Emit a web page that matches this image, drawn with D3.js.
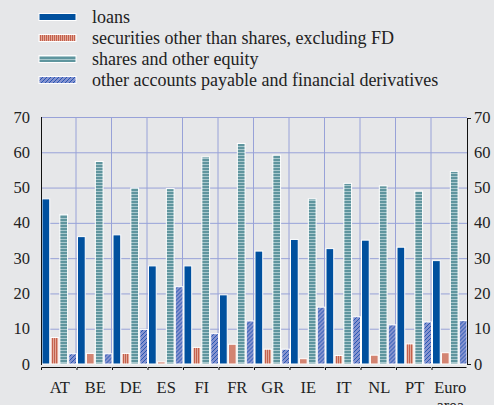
<!DOCTYPE html>
<html>
<head>
<meta charset="utf-8">
<script src="https://d3js.org/d3.v7.min.js"></script>
</head>
<body style="margin:0">
<script>
var categories = ["AT", "BE", "DE", "ES", "FI", "FR", "GR", "IE", "IT", "NL", "PT", "Euro area"];
var seriesNames = ["loans", "securities other than shares, excluding FD",
                   "shares and other equity", "other accounts payable and financial derivatives"];
var loans      = [46.8, 36.1, 36.6, 27.8, 27.8, 19.6, 32.0, 35.3, 32.7, 35.1, 33.1, 29.3];
var securities = [7.5, 3.0, 3.0, 0.6, 4.7, 5.6, 4.2, 1.5, 2.4, 2.5, 5.7, 3.2];
var shares     = [42.4, 57.4, 49.9, 49.7, 58.7, 62.5, 59.2, 46.8, 51.2, 50.5, 49.0, 54.6];
var otherAcc   = [2.9, 2.9, 9.8, 21.9, 8.6, 12.2, 4.2, 16.1, 13.4, 11.1, 11.9, 12.3];
var yTicks = [0, 10, 20, 30, 40, 50, 60, 70];

var series = [loans, securities, shares, otherAcc];
var fills = ["#00509e", "url(#pSec)", "url(#pSh)", "url(#pOth)"];
var serif = "'Liberation Serif'";

var W = 494, H = 405;
var m = {left: 41, right: 27, top: 117, bottom: 41};

var svg = d3.select("body").append("svg").attr("width", W).attr("height", H);
svg.append("rect").attr("width", W).attr("height", H).attr("fill", "#e6e7e9");

// patterns
var defs = svg.append("defs");
var p1 = defs.append("pattern").attr("id", "pSec").attr("patternUnits", "userSpaceOnUse")
  .attr("width", 2).attr("height", 4);
p1.append("rect").attr("width", 2).attr("height", 4).attr("fill", "#e2a898");
p1.append("rect").attr("width", 1).attr("height", 4).attr("fill", "#c4604c");
var p2 = defs.append("pattern").attr("id", "pSh").attr("patternUnits", "userSpaceOnUse")
  .attr("width", 4).attr("height", 3);
p2.append("rect").attr("width", 4).attr("height", 3).attr("fill", "#a9c8cd");
p2.append("rect").attr("width", 4).attr("height", 2).attr("fill", "#5f959e");
var p3 = defs.append("pattern").attr("id", "pOth").attr("patternUnits", "userSpaceOnUse")
  .attr("width", 4).attr("height", 4);
p3.append("rect").attr("width", 4).attr("height", 4).attr("fill", "#8593cf");
p3.append("path").attr("d", "M0,4 L4,0 M-1,1 L1,-1 M3,5 L5,3").attr("stroke", "#1d4fb0").attr("stroke-width", 0.9);

var x = d3.scaleBand().domain(categories).range([m.left, W - m.right]);
var x1 = d3.scaleBand().domain(d3.range(4)).range([0, x.bandwidth()]).paddingOuter(0).paddingInner(0.02);
var y = d3.scaleLinear().domain([0, 70]).range([H - m.bottom, m.top]);

// grid
var grid = svg.append("g").attr("stroke", "#98a2d8").attr("stroke-width", 1);
grid.selectAll("line.h").data(yTicks.slice(1)).enter().append("line")
  .attr("x1", m.left).attr("x2", W - m.right)
  .attr("y1", function(d) { return y(d) + 0.5; }).attr("y2", function(d) { return y(d) + 0.5; });
grid.selectAll("line.v").data(categories.slice(1)).enter().append("line")
  .attr("x1", function(d) { return x(d) - 0.5; }).attr("x2", function(d) { return x(d) - 0.5; })
  .attr("y1", y(70)).attr("y2", y(0));

// bars
var gCat = svg.selectAll("g.cat").data(categories).enter().append("g")
  .attr("transform", function(d) { return "translate(" + (x(d) + 1) + ",0)"; });
gCat.each(function(c, i) {
  d3.select(this).selectAll("rect").data(series).enter().append("rect")
    .attr("x", function(s, j) { return x1(j); })
    .attr("width", x1.bandwidth() - 1)
    .attr("y", function(s) { return y(s[i]); })
    .attr("height", function(s) { return y(0) - y(s[i]); })
    .attr("fill", function(s, j) { return fills[j]; })
    .attr("stroke", "#ffffff").attr("stroke-width", 1);
});

// axes lines
svg.append("line").attr("x1", m.left + 0.5).attr("x2", m.left + 0.5)
  .attr("y1", y(70)).attr("y2", y(0) + 1).attr("stroke", "#111");
svg.append("line").attr("x1", W - m.right + 0.5).attr("x2", W - m.right + 0.5)
  .attr("y1", y(70) + 1).attr("y2", y(0) + 1).attr("stroke", "#111");
svg.append("line").attr("x1", W - m.right).attr("x2", W - m.right + 4)
  .attr("y1", y(70) + 1.5).attr("y2", y(70) + 1.5).attr("stroke", "#111");
svg.append("line").attr("x1", W - m.right).attr("x2", W - m.right + 4)
  .attr("y1", y(0) + 0.5).attr("y2", y(0) + 0.5).attr("stroke", "#111");

// x axis bracket
var xb = svg.append("g").attr("stroke", "#111").attr("fill", "none");
categories.forEach(function(c) {
  var x0 = x(c) + 0.5, yy = y(0) + 3.5;
  xb.append("path").attr("d", "M" + x0 + "," + (yy + 2.5) + " L" + x0 + "," + yy + " L" + (x0 + x.bandwidth() - 1) + "," + yy);
});

// y labels
var fs = 16.5;
svg.selectAll("text.l").data(yTicks).enter().append("text")
  .style("font-family", serif).attr("font-size", fs).attr("fill", "#222")
  .attr("x", m.left - 11).attr("y", function(d) { return y(d) + 5.5; })
  .attr("text-anchor", "end").text(function(d) { return d; });
svg.selectAll("text.r").data(yTicks).enter().append("text")
  .style("font-family", serif).attr("font-size", fs).attr("fill", "#222")
  .attr("x", W - m.right + 7).attr("y", function(d) { return y(d) + 5.5; })
  .text(function(d) { return d; });

// x labels
categories.forEach(function(c) {
  var parts = c.split(" ");
  parts.forEach(function(p, k) {
    svg.append("text").style("font-family", serif).attr("font-size", fs).attr("fill", "#222")
      .attr("text-anchor", "middle")
      .attr("x", x(c) + x.bandwidth() / 2 + 1).attr("y", y(0) + 29 + k * 18).text(p);
  });
});

// legend
seriesNames.forEach(function(n, i) {
  var yy = 17 + i * 21;
  svg.append("rect").attr("x", 39).attr("y", yy - 3.5).attr("width", 37).attr("height", 7)
    .attr("fill", fills[i]).attr("stroke", "#ffffff").attr("stroke-width", 1);
  svg.append("text").style("font-family", serif).attr("font-size", 18).attr("fill", "#222")
    .attr("x", 92).attr("y", yy + 6.3).text(n);
});
</script>
</body>
</html>
